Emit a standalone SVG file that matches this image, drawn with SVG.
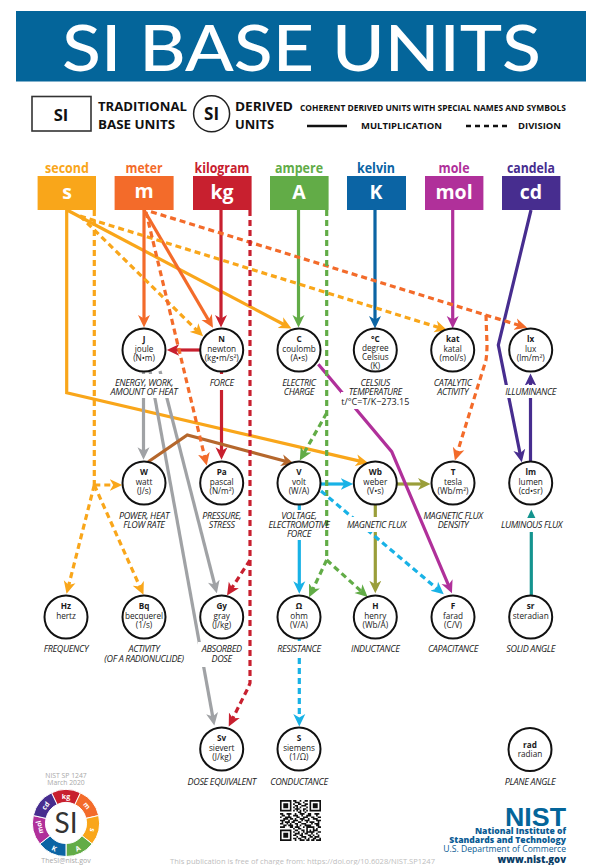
<svg xmlns="http://www.w3.org/2000/svg" width="589" height="865" viewBox="0 0 589 865">
<style>
text{font-family:"Open Sans","Noto Sans",sans-serif;fill:#1a1a1a}
.c{stroke:#111;stroke-width:2;fill:#fff}
.bg{fill:#fff;stroke:none}
.n{font-size:8.2px;text-anchor:middle}
.b{font-weight:700}
.l{font-size:9px;font-style:italic;text-anchor:middle;letter-spacing:-.35px}
.u{font-size:19.5px;font-weight:700;fill:#fff;text-anchor:middle}
.t{font-size:13.5px;font-weight:700;text-anchor:middle}
.lg{font-weight:700;fill:#111}
.a{fill:none;stroke-width:3.2}
.d{fill:none;stroke-width:3.2;stroke-dasharray:6 4}
.w{fill:#fff;font-weight:700;font-size:7px;text-anchor:middle}
.g{fill:#a8a8a8;font-size:6.8px;text-anchor:middle}
.nist{fill:#0b5c94;text-anchor:end;font-size:8.6px;font-weight:700}
.y{stroke:#f9a61a}.o{stroke:#f36b2a}.r{stroke:#c8202f}.gr{stroke:#62ac47}.bl{stroke:#0b64a4}.p{stroke:#b0309a}.i{stroke:#472d8f}.cy{stroke:#18b2e6}.gy{stroke:#a0a2a5}.br{stroke:#b5672c}.ol{stroke:#9a9e3a}.te{stroke:#14948f}
</style>
<defs>
<marker id="my" markerUnits="userSpaceOnUse" markerWidth="13" markerHeight="13" viewBox="0 0 13 13" refX="5" refY="6.5" orient="auto" fill="#f9a61a"><path d="M0 .5 12.5 6.5 0 12.5 3.5 6.5Z"/></marker>
<marker id="mo" markerUnits="userSpaceOnUse" markerWidth="13" markerHeight="13" viewBox="0 0 13 13" refX="5" refY="6.5" orient="auto" fill="#f36b2a"><path d="M0 .5 12.5 6.5 0 12.5 3.5 6.5Z"/></marker>
<marker id="mr" markerUnits="userSpaceOnUse" markerWidth="13" markerHeight="13" viewBox="0 0 13 13" refX="5" refY="6.5" orient="auto" fill="#c8202f"><path d="M0 .5 12.5 6.5 0 12.5 3.5 6.5Z"/></marker>
<marker id="mgr" markerUnits="userSpaceOnUse" markerWidth="13" markerHeight="13" viewBox="0 0 13 13" refX="5" refY="6.5" orient="auto" fill="#62ac47"><path d="M0 .5 12.5 6.5 0 12.5 3.5 6.5Z"/></marker>
<marker id="mbl" markerUnits="userSpaceOnUse" markerWidth="13" markerHeight="13" viewBox="0 0 13 13" refX="5" refY="6.5" orient="auto" fill="#0b64a4"><path d="M0 .5 12.5 6.5 0 12.5 3.5 6.5Z"/></marker>
<marker id="mp" markerUnits="userSpaceOnUse" markerWidth="13" markerHeight="13" viewBox="0 0 13 13" refX="5" refY="6.5" orient="auto" fill="#b0309a"><path d="M0 .5 12.5 6.5 0 12.5 3.5 6.5Z"/></marker>
<marker id="mi" markerUnits="userSpaceOnUse" markerWidth="13" markerHeight="13" viewBox="0 0 13 13" refX="5" refY="6.5" orient="auto" fill="#472d8f"><path d="M0 .5 12.5 6.5 0 12.5 3.5 6.5Z"/></marker>
<marker id="mcy" markerUnits="userSpaceOnUse" markerWidth="13" markerHeight="13" viewBox="0 0 13 13" refX="5" refY="6.5" orient="auto" fill="#18b2e6"><path d="M0 .5 12.5 6.5 0 12.5 3.5 6.5Z"/></marker>
<marker id="mgy" markerUnits="userSpaceOnUse" markerWidth="13" markerHeight="13" viewBox="0 0 13 13" refX="5" refY="6.5" orient="auto" fill="#a0a2a5"><path d="M0 .5 12.5 6.5 0 12.5 3.5 6.5Z"/></marker>
<marker id="mbr" markerUnits="userSpaceOnUse" markerWidth="13" markerHeight="13" viewBox="0 0 13 13" refX="5" refY="6.5" orient="auto" fill="#b5672c"><path d="M0 .5 12.5 6.5 0 12.5 3.5 6.5Z"/></marker>
<marker id="mol" markerUnits="userSpaceOnUse" markerWidth="13" markerHeight="13" viewBox="0 0 13 13" refX="5" refY="6.5" orient="auto" fill="#9a9e3a"><path d="M0 .5 12.5 6.5 0 12.5 3.5 6.5Z"/></marker>
<marker id="mte" markerUnits="userSpaceOnUse" markerWidth="13" markerHeight="13" viewBox="0 0 13 13" refX="5" refY="6.5" orient="auto" fill="#14948f"><path d="M0 .5 12.5 6.5 0 12.5 3.5 6.5Z"/></marker>
</defs>
<rect width="589" height="865" fill="#fff"/>
<g id="header">
<rect x="16" y="11" width="570" height="70.5" fill="#04659a"/>
<text x="62" y="71" font-size="64" textLength="479" lengthAdjust="spacingAndGlyphs" style="font-family:Lato,'Open Sans',sans-serif;fill:#fff;font-weight:500">SI BASE UNITS</text>
</g>
<g id="legend">
<rect x="32" y="96.5" width="59" height="34.5" fill="#fff" stroke="#333" stroke-width="1.6"/>
<text x="61" y="120.5" class="lg" font-size="16.5" text-anchor="middle">SI</text>
<text class="lg" font-size="13"><tspan x="98" y="111" textLength="89" lengthAdjust="spacingAndGlyphs">TRADITIONAL</tspan><tspan x="98" y="129" textLength="77" lengthAdjust="spacingAndGlyphs">BASE UNITS</tspan></text>
<circle cx="211.6" cy="113.7" r="18" fill="#fff" stroke="#222" stroke-width="1.5"/>
<text x="211.6" y="120" class="lg" font-size="17" text-anchor="middle">SI</text>
<text class="lg" font-size="13"><tspan x="235" y="111" textLength="58" lengthAdjust="spacingAndGlyphs">DERIVED</tspan><tspan x="235" y="129" textLength="39" lengthAdjust="spacingAndGlyphs">UNITS</tspan></text>
<text x="300" y="111" class="lg" font-size="8.6" textLength="266" lengthAdjust="spacingAndGlyphs">COHERENT DERIVED UNITS WITH SPECIAL NAMES AND SYMBOLS</text>
<path d="M307 126h40" stroke="#111" stroke-width="2.5" fill="none"/>
<text x="361" y="128.5" class="lg" font-size="9" textLength="81" lengthAdjust="spacingAndGlyphs">MULTIPLICATION</text>
<path d="M466 126h42" stroke="#111" stroke-width="2.5" stroke-dasharray="5 4" fill="none"/>
<text x="518" y="128.5" class="lg" font-size="9" textLength="43" lengthAdjust="spacingAndGlyphs">DIVISION</text>
</g>
<g id="connectors">
<path class="a y" d="M66.7 210V392.7L360.9 461.4" marker-end="url(#my)"/>
<path class="a y" d="M67 210L284.8 325" marker-end="url(#my)"/>
<path class="a o" d="M144 210V320" marker-end="url(#mo)"/>
<path class="a o" d="M144 210L209.2 321.3" marker-end="url(#mo)"/>
<path class="a r" d="M221 210V320" marker-end="url(#mr)"/>
<path class="a gr" d="M298.5 210V320" marker-end="url(#mgr)"/>
<path class="a bl" d="M375 210V321" marker-end="url(#mbl)"/>
<path class="a p" d="M452.7 210V321" marker-end="url(#mp)"/>
<path class="a i" d="M531 210L498.3 345L520.3 454.8" marker-end="url(#mi)"/>
<path class="a r" d="M200 350H174.3" marker-end="url(#mr)"/>
<path class="a r" d="M221.5 372V452.3" marker-end="url(#mr)"/>
<path class="a gy" d="M143.5 372V452.3" marker-end="url(#mgy)"/>
<path class="a gy" d="M150 371L213 718.1" marker-end="url(#mgy)"/>
<path class="a gy" d="M160 371L215 586" marker-end="url(#mgy)"/>
<path class="a br" d="M148.3 461.7L187.3 435L286.5 461.5" marker-end="url(#mbr)"/>
<path class="a cy" d="M321 484H345.7" marker-end="url(#mcy)"/>
<path class="a cy" d="M299.3 505V586.3" marker-end="url(#mcy)"/>
<path class="a ol" d="M397 484H423" marker-end="url(#mol)"/>
<path class="a ol" d="M375.3 505V585.7" marker-end="url(#mol)"/>
<path class="a p" d="M318.3 364.3L391.7 451.7L449 586.3" marker-end="url(#mp)"/>
<path class="a te" d="M531.3 596V517" marker-end="url(#mte)"/>
<path class="a i" d="M530.5 462V381" marker-end="url(#mi)"/>
<path class="d y" d="M80 216L197.7 331.1" marker-end="url(#my)"/>
<path class="d y" d="M80 216L440 327.9" marker-end="url(#my)"/>
<path class="d o" d="M151 211.7L520 325.6" marker-end="url(#mo)"/>
<path class="d o" d="M146 212L205 458.2" marker-end="url(#mo)"/>
<path class="d y" d="M94.3 210V485"/>
<path class="d y" d="M94.3 485H114.7" marker-end="url(#my)"/>
<path class="d y" d="M94.3 485L68.4 586.5" marker-end="url(#my)"/>
<path class="d y" d="M94.3 485L140.4 587.9" marker-end="url(#my)"/>
<path class="d r" d="M250 210V683L248 688L232.1 719.7" marker-end="url(#mr)"/>
<path class="d r" d="M250 560L231.1 589.1" marker-end="url(#mr)"/>
<path class="d gr" d="M326.7 210V560"/>
<path class="d gr" d="M326.7 413L303.5 453.9" marker-end="url(#mgr)"/>
<path class="d gr" d="M326.7 560L312.3 590.4" marker-end="url(#mgr)"/>
<path class="d gr" d="M326.7 560L362.1 592" marker-end="url(#mgr)"/>
<path class="d cy" d="M321 491L438 589.5" marker-end="url(#mcy)"/>
<path class="d cy" d="M299.3 638V719" marker-end="url(#mcy)"/>
<path class="d o" d="M486 315L487 345Q487 353 486 360L457.1 453.3" marker-end="url(#mo)"/>
</g>
<g id="base-s"><text x="67" y="172.7" class="t" style="fill:#f9a61a" textLength="44" lengthAdjust="spacingAndGlyphs">second</text><rect x="37.6" y="176" width="58.4" height="34" fill="#f9a61a"/><text x="67" y="199" class="u">s</text></g>
<g id="base-m"><text x="144" y="172.7" class="t" style="fill:#f36b2a" textLength="37" lengthAdjust="spacingAndGlyphs">meter</text><rect x="114.6" y="176" width="59" height="34" fill="#f36b2a"/><text x="144" y="198" class="u">m</text></g>
<g id="base-kg"><text x="222" y="172.7" class="t" style="fill:#c8202f" textLength="55" lengthAdjust="spacingAndGlyphs">kilogram</text><rect x="193" y="176" width="58.6" height="34" fill="#c8202f"/><text x="222" y="199" class="u">kg</text></g>
<g id="base-A"><text x="299" y="172.7" class="t" style="fill:#62ac47" textLength="48" lengthAdjust="spacingAndGlyphs">ampere</text><rect x="270" y="176" width="58.6" height="34" fill="#62ac47"/><text x="299" y="199" class="u">A</text></g>
<g id="base-K"><text x="376" y="172.7" class="t" style="fill:#0b64a4" textLength="38" lengthAdjust="spacingAndGlyphs">kelvin</text><rect x="347" y="176" width="59" height="34" fill="#0b64a4"/><text x="376" y="199" class="u">K</text></g>
<g id="base-mol"><text x="454" y="172.7" class="t" style="fill:#b0309a" textLength="31" lengthAdjust="spacingAndGlyphs">mole</text><rect x="425" y="176" width="58.4" height="34" fill="#b0309a"/><text x="454" y="199" class="u">mol</text></g>
<g id="base-cd"><text x="531" y="172.7" class="t" style="fill:#472d8f" textLength="48" lengthAdjust="spacingAndGlyphs">candela</text><rect x="502" y="176" width="58.4" height="34" fill="#472d8f"/><text x="531" y="199" class="u">cd</text></g>
<g id="n-J"><rect class="bg" x="108" y="374" width="71" height="24"/><circle class="c" cx="144" cy="350" r="21.5"/><text class="n"><tspan class="b" x="144" y="342">J</tspan><tspan x="144" y="351.7">joule</tspan><tspan x="144" y="360.7">(N•m)</tspan></text><text class="l"><tspan x="144" y="385.7">ENERGY, WORK,</tspan><tspan x="144" y="395">AMOUNT OF HEAT</tspan></text></g>
<g id="n-N"><rect class="bg" x="208" y="374" width="28" height="16"/><circle class="c" cx="221.7" cy="350" r="21.5"/><text class="n"><tspan class="b" x="221.7" y="342">N</tspan><tspan x="221.7" y="351.7">newton</tspan><tspan x="221.7" y="360.7">(kg•m/s²)</tspan></text><text x="221.7" y="385.7" class="l">FORCE</text></g>
<g id="n-C"><circle class="c" cx="299" cy="350" r="21.5"/><text class="n"><tspan class="b" x="299" y="342">C</tspan><tspan x="299" y="351.7">coulomb</tspan><tspan x="299" y="360.7">(A•s)</tspan></text><text class="l"><tspan x="299" y="385.7">ELECTRIC</tspan><tspan x="299" y="395">CHARGE</tspan></text></g>
<g id="n-degC"><rect class="bg" x="341" y="392" width="66" height="17"/><circle class="c" cx="375.3" cy="350" r="21.5"/><text class="n"><tspan class="b" x="375.3" y="341.7">°C</tspan><tspan x="375.3" y="351">degree</tspan><tspan x="375.3" y="360">Celsius</tspan><tspan x="375.3" y="368.5">(K)</tspan></text><text class="l"><tspan x="375.3" y="385.7">CELSIUS</tspan><tspan x="375.3" y="394.7">TEMPERATURE</tspan><tspan x="375.3" y="405" style="font-style:normal;letter-spacing:0">t/°C=T/K−273.15</tspan></text></g>
<g id="n-kat"><circle class="c" cx="452.7" cy="350" r="21.5"/><text class="n"><tspan class="b" x="452.7" y="342">kat</tspan><tspan x="452.7" y="351.7">katal</tspan><tspan x="452.7" y="360.7">(mol/s)</tspan></text><text class="l"><tspan x="452.7" y="385.7">CATALYTIC</tspan><tspan x="452.7" y="395">ACTIVITY</tspan></text></g>
<g id="n-lx"><rect class="bg" x="503" y="385" width="54" height="13"/><circle class="c" cx="530.7" cy="350" r="21.5"/><text class="n"><tspan class="b" x="530.7" y="342">lx</tspan><tspan x="530.7" y="351.7">lux</tspan><tspan x="530.7" y="360.7">(lm/m²)</tspan></text><text x="530.7" y="395" class="l">ILLUMINANCE</text></g>
<g id="n-W"><circle class="c" cx="144" cy="483" r="21.5"/><text class="n"><tspan class="b" x="144" y="475">W</tspan><tspan x="144" y="484.7">watt</tspan><tspan x="144" y="493.7">(J/s)</tspan></text><text class="l"><tspan x="144" y="519">POWER, HEAT</tspan><tspan x="144" y="528">FLOW RATE</tspan></text></g>
<g id="n-Pa"><circle class="c" cx="221.7" cy="483" r="21.5"/><text class="n"><tspan class="b" x="221.7" y="475">Pa</tspan><tspan x="221.7" y="484.7">pascal</tspan><tspan x="221.7" y="493.7">(N/m²)</tspan></text><text class="l"><tspan x="221.7" y="519">PRESSURE,</tspan><tspan x="221.7" y="528">STRESS</tspan></text></g>
<g id="n-V"><rect class="bg" x="271" y="510" width="54" height="30"/><circle class="c" cx="299" cy="483" r="21.5"/><text class="n"><tspan class="b" x="299" y="475">V</tspan><tspan x="299" y="484.7">volt</tspan><tspan x="299" y="493.7">(W/A)</tspan></text><text class="l"><tspan x="299" y="519">VOLTAGE,</tspan><tspan x="299" y="528">ELECTROMOTIVE</tspan><tspan x="299" y="537">FORCE</tspan></text></g>
<g id="n-Wb"><rect class="bg" x="346" y="517" width="62" height="15"/><circle class="c" cx="375.3" cy="483" r="21.5"/><text class="n"><tspan class="b" x="375.3" y="475">Wb</tspan><tspan x="375.3" y="484.7">weber</tspan><tspan x="375.3" y="493.7">(V•s)</tspan></text><text x="376.5" y="528" class="l">MAGNETIC FLUX</text></g>
<g id="n-T"><circle class="c" cx="453" cy="483" r="21.5"/><text class="n"><tspan class="b" x="453" y="475">T</tspan><tspan x="453" y="484.7">tesla</tspan><tspan x="453" y="493.7">(Wb/m²)</tspan></text><text class="l"><tspan x="453" y="519">MAGNETIC FLUX</tspan><tspan x="453" y="528">DENSITY</tspan></text></g>
<g id="n-lm"><rect class="bg" x="503" y="518" width="56" height="14"/><circle class="c" cx="530.7" cy="483" r="21.5"/><text class="n"><tspan class="b" x="530.7" y="475">lm</tspan><tspan x="530.7" y="484.7">lumen</tspan><tspan x="530.7" y="493.7">(cd•sr)</tspan></text><text x="531.5" y="528" class="l">LUMINOUS FLUX</text></g>
<g id="n-Hz"><circle class="c" cx="66" cy="617" r="21.5"/><text class="n"><tspan class="b" x="66" y="609.3">Hz</tspan><tspan x="66" y="618.7">hertz</tspan></text><text x="66" y="652" class="l">FREQUENCY</text></g>
<g id="n-Bq"><circle class="c" cx="144" cy="617" r="21.5"/><text class="n"><tspan class="b" x="144" y="609.3">Bq</tspan><tspan x="144" y="618.7">becquerel</tspan><tspan x="144" y="627.7">(1/s)</tspan></text><text class="l"><tspan x="144" y="652">ACTIVITY</tspan><tspan x="144" y="661.5">(OF A RADIONUCLIDE)</tspan></text></g>
<g id="n-Gy"><rect class="bg" x="198" y="642" width="46" height="25"/><circle class="c" cx="221.7" cy="617" r="21.5"/><text class="n"><tspan class="b" x="221.7" y="609.3">Gy</tspan><tspan x="221.7" y="618.7">gray</tspan><tspan x="221.7" y="627.7">(J/kg)</tspan></text><text class="l"><tspan x="221.7" y="652">ABSORBED</tspan><tspan x="221.7" y="661.5">DOSE</tspan></text></g>
<g id="n-ohm"><rect class="bg" x="275" y="641" width="48" height="16"/><circle class="c" cx="299" cy="617" r="21.5"/><text class="n"><tspan class="b" x="299" y="609.3">Ω</tspan><tspan x="299" y="618.7">ohm</tspan><tspan x="299" y="627.7">(V/A)</tspan></text><text x="299" y="652" class="l">RESISTANCE</text></g>
<g id="n-H"><circle class="c" cx="375.3" cy="617" r="21.5"/><text class="n"><tspan class="b" x="375.3" y="609.3">H</tspan><tspan x="375.3" y="618.7">henry</tspan><tspan x="375.3" y="627.7">(Wb/A)</tspan></text><text x="375.3" y="652" class="l">INDUCTANCE</text></g>
<g id="n-F"><circle class="c" cx="453" cy="617" r="21.5"/><text class="n"><tspan class="b" x="453" y="609.3">F</tspan><tspan x="453" y="618.7">farad</tspan><tspan x="453" y="627.7">(C/V)</tspan></text><text x="453" y="652" class="l">CAPACITANCE</text></g>
<g id="n-sr"><circle class="c" cx="530.7" cy="617" r="21.5"/><text class="n"><tspan class="b" x="530.7" y="609.3">sr</tspan><tspan x="530.7" y="618.7">steradian</tspan></text><text x="530.7" y="652" class="l">SOLID ANGLE</text></g>
<g id="n-Sv"><circle class="c" cx="221.7" cy="749" r="21.5"/><text class="n"><tspan class="b" x="221.7" y="741.3">Sv</tspan><tspan x="221.7" y="750.7">sievert</tspan><tspan x="221.7" y="759.7">(J/kg)</tspan></text><text x="221.7" y="784.7" class="l">DOSE EQUIVALENT</text></g>
<g id="n-S"><circle class="c" cx="299" cy="749" r="21.5"/><text class="n"><tspan class="b" x="299" y="741.3">S</tspan><tspan x="299" y="750.7">siemens</tspan><tspan x="299" y="759.7">(1/Ω)</tspan></text><text x="299" y="784.7" class="l">CONDUCTANCE</text></g>
<g id="n-rad"><circle class="c" cx="530" cy="749.5" r="21.5"/><text class="n"><tspan class="b" x="530" y="747.7">rad</tspan><tspan x="530" y="756.7">radian</tspan></text><text x="530" y="784.7" class="l">PLANE ANGLE</text></g>
<g id="logo-si">
<text class="g"><tspan x="66" y="777.5">NIST SP 1247</tspan><tspan x="66" y="785">March 2020</tspan></text>
<g stroke="#fff" stroke-width="1">
<path fill="#c8202f" d="M51.5 792.8A33.5 33.5 0 0 1 80.5 792.8L74.9 804.5A20.5 20.5 0 0 0 57.1 804.5Z"/>
<path fill="#f36b2a" d="M80.5 792.8A33.5 33.5 0 0 1 98.7 815.5L86 818.4A20.5 20.5 0 0 0 74.9 804.5Z"/>
<path fill="#f9a61a" d="M98.7 815.5A33.5 33.5 0 0 1 92.2 843.9L82 835.8A20.5 20.5 0 0 0 86 818.4Z"/>
<path fill="#62ac47" d="M92.2 843.9A33.5 33.5 0 0 1 66 856.5V843.5A20.5 20.5 0 0 0 82 835.8Z"/>
<path fill="#0b64a4" d="M66 856.5A33.5 33.5 0 0 1 39.8 843.9L50 835.8A20.5 20.5 0 0 0 66 843.5Z"/>
<path fill="#b0309a" d="M39.8 843.9A33.5 33.5 0 0 1 33.3 815.5L46 818.4A20.5 20.5 0 0 0 50 835.8Z"/>
<path fill="#472d8f" d="M33.3 815.5A33.5 33.5 0 0 1 51.5 792.8L57.1 804.5A20.5 20.5 0 0 0 46 818.4Z"/>
</g>
<text class="w" x="66" y="798.5" transform="rotate(0 66 796)">kg</text>
<text class="w" x="86.5" y="808" transform="rotate(51 86.5 806)">m</text>
<text class="w" x="92" y="832" transform="rotate(103 92 830)">s</text>
<text class="w" x="78" y="851" transform="rotate(-26 78 849)">A</text>
<text class="w" x="54" y="851" transform="rotate(26 54 849)">K</text>
<text class="w" x="40" y="829" transform="rotate(-103 40 827)">mol</text>
<text class="w" x="46" y="808" transform="rotate(-51 46 806)">cd</text>
<text x="66" y="833" font-size="28" text-anchor="middle" style="font-family:Lato,sans-serif;fill:#333">SI</text>
<text x="66" y="863" class="g" style="font-size:7px">TheSI@nist.gov</text>
</g>
<g id="qr" transform="translate(280 800) scale(1.64)">
<path fill-rule="evenodd" fill="#111" d="M0 0h7v7h-7zM1 1v5h5v-5zM2 2h3v3h-3zM18 0h7v7h-7zM19 1v5h5v-5zM20 2h3v3h-3zM0 18h7v7h-7zM1 19v5h5v-5zM2 20h3v3h-3z"/>
<path stroke="#111" stroke-width="1" fill="none" d="M8 .5h2M12 .5h1M15 .5h2M9 1.500h3M14 1.500h1M8 2.500h1M11 2.500h2M15 2.500h2M9 3.500h2M13 3.500h3M8 4.500h1M10 4.500h1M12 4.500h1M16 4.500h1M9 5.500h3M14 5.500h2M8 6.500h1M10 6.500h1M12 6.500h1M14 6.500h1M16 6.500h1M11 7.500h2M15 7.500h1M0 8.500h2M4 8.500h3M9 8.500h1M12 8.500h3M17 8.500h2M21 8.500h3M1 9.500h2M5 9.500h1M8 9.500h3M13 9.500h1M16 9.500h3M22 9.500h1M0 10.500h1M3 10.500h4M10 10.500h2M14 10.500h3M19 10.500h2M23 10.500h2M2 11.500h3M6 11.500h2M9 11.500h1M12 11.500h3M17 11.500h1M20 11.500h3M0 12.500h3M5 12.500h1M8 12.500h3M13 12.500h1M15 12.500h3M22 12.500h3M1 13.500h1M3 13.500h3M7 13.500h2M11 13.500h2M16 13.500h1M18 13.500h3M23 13.500h1M0 14.500h2M4 14.500h1M6 14.500h1M9 14.500h2M13 14.500h3M19 14.500h1M21 14.500h3M2 15.500h2M5 15.500h3M10 15.500h1M12 15.500h1M15 15.500h4M22 15.500h2M0 16.500h3M6 16.500h2M9 16.500h3M14 16.500h1M16 16.500h5M23 16.500h2M8 17.500h1M11 17.500h2M16 17.500h1M20 17.500h1M22 17.500h1M9 18.500h2M13 18.500h2M16 18.500h1M18 18.500h1M20 18.500h3M8 19.500h1M11 19.500h1M14 19.500h1M16 19.500h5M23 19.500h2M9 20.500h3M13 20.500h1M15 20.500h2M19 20.500h1M22 20.500h1M8 21.500h2M12 21.500h2M17 21.500h2M20 21.500h1M23 21.500h1M10 22.500h1M13 22.500h3M18 22.500h2M21 22.500h3M8 23.500h2M11 23.500h2M15 23.500h1M17 23.500h1M20 23.500h2M24 23.500h1M9 24.500h1M12 24.500h3M16 24.500h2M19 24.500h2M22 24.500h3"/>
</g>
<g id="logo-nist">
<text x="505" y="826" font-size="25" textLength="61" lengthAdjust="spacingAndGlyphs" style="font-family:'Liberation Sans',sans-serif;font-weight:700;fill:#04659a">NIST</text>
<text class="nist"><tspan x="566" y="834.300" style="font-weight:800">National Institute of</tspan><tspan x="566" y="843.300" style="font-weight:800">Standards and Technology</tspan><tspan x="566" y="852.300" style="font-weight:400">U.S. Department of Commerce</tspan><tspan x="566" y="862.500" style="fill:#0a3d66;font-size:9.6px;font-weight:800">www.nist.gov</tspan></text>
</g>
<text x="170" y="864" font-size="8" textLength="265" lengthAdjust="spacingAndGlyphs" style="fill:#bdbdbd">This publication is free of charge from: https://doi.org/10.6028/NIST.SP1247</text>
</svg>
